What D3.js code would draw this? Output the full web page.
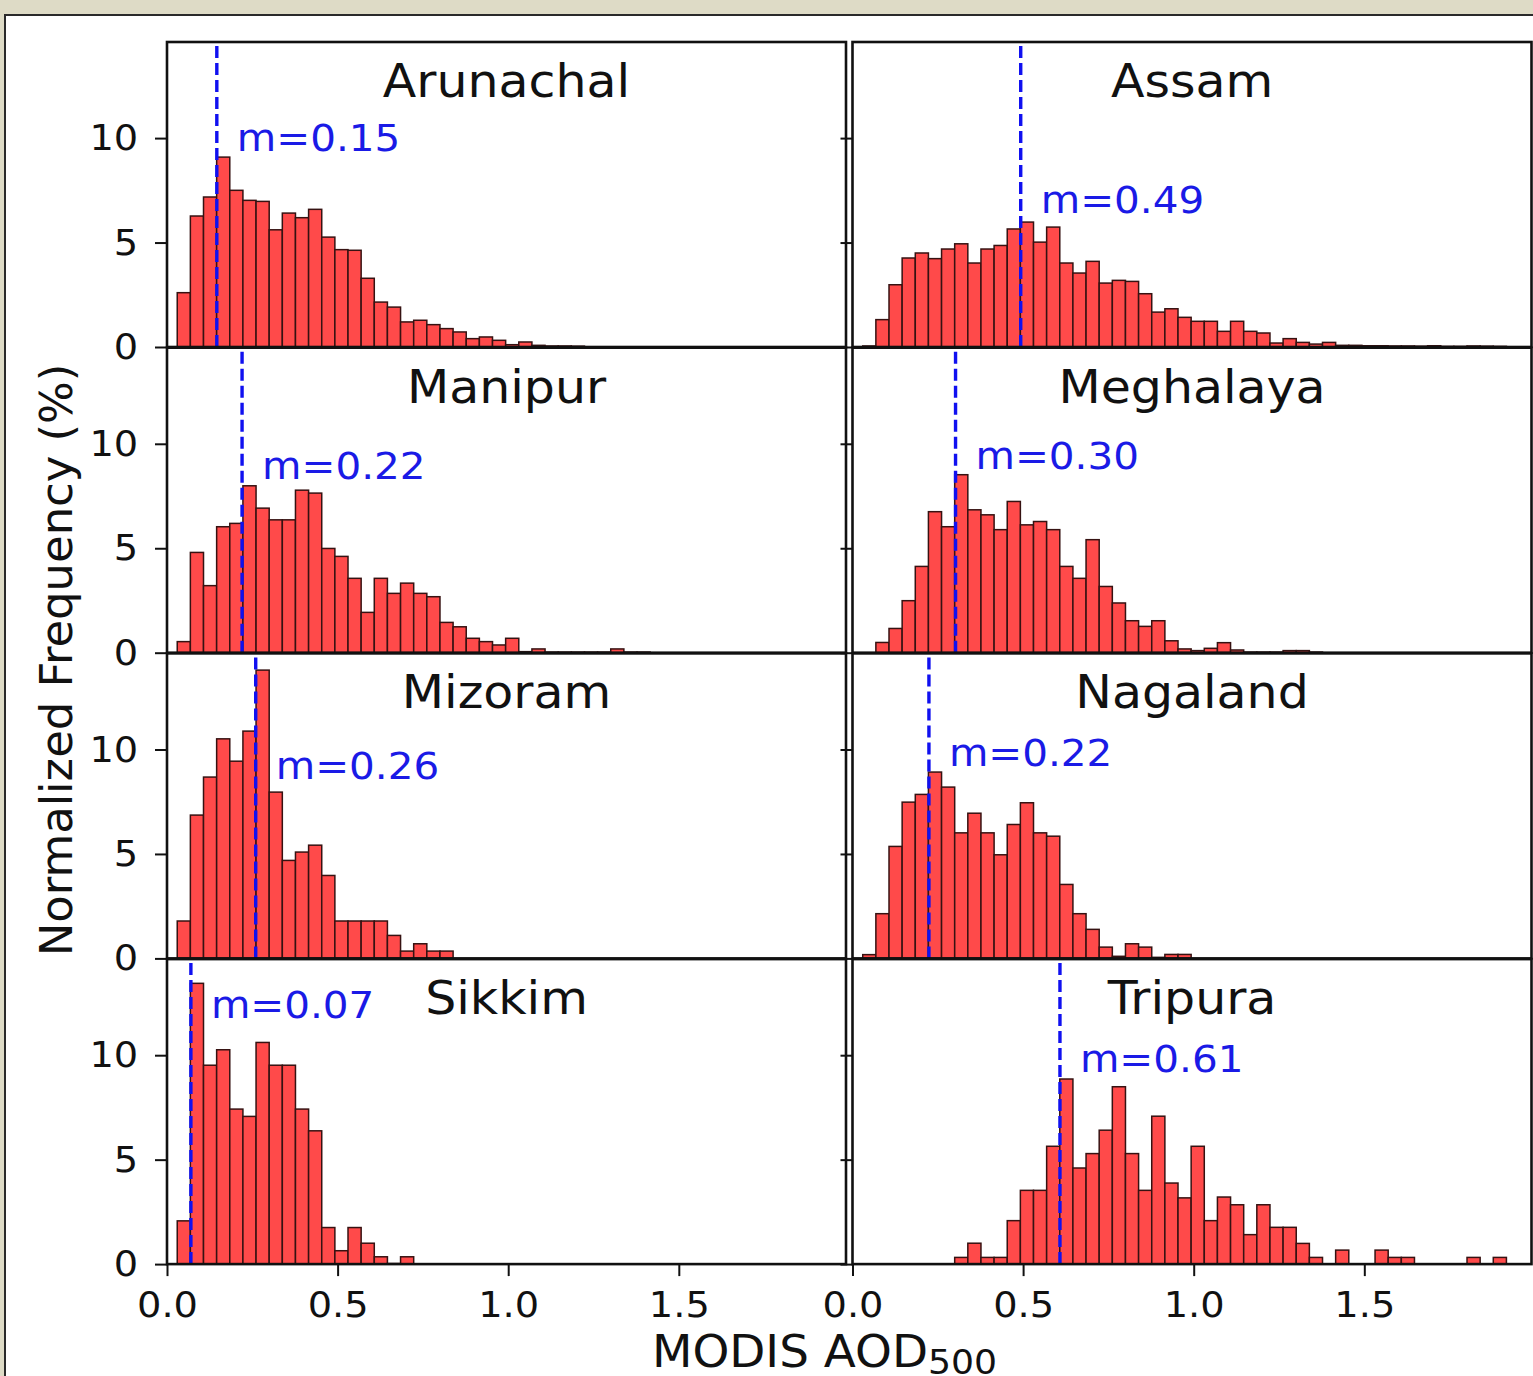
<!DOCTYPE html>
<html>
<head>
<meta charset="utf-8">
<script src="https://cdn.jsdelivr.net/npm/d3@7"></script>
<style>
  html, body { margin: 0; padding: 0; background: #dedbc6; }
  svg { display: block; font-family: "DejaVu Sans", sans-serif; }
</style>
</head>
<body>
<div id="chart"></div>
<script>
// histogram bins share one grid: start + i * width
const gridStart = 0.03;
const binWidth = 0.0385;

const states = ["Arunachal", "Assam", "Manipur", "Meghalaya", "Mizoram", "Nagaland", "Sikkim", "Tripura"];
const means = [0.146, 0.493, 0.22, 0.302, 0.26, 0.224, 0.07, 0.608];
const firstBin = [0, 0, 0, 1, 0, 0, 0, 7];

// normalized frequency (%) per bin
const arunachal = [2.6, 6.27, 7.18, 9.09, 7.5, 7.02, 6.97, 5.61, 6.41, 6.19, 6.59, 5.26, 4.66, 4.63, 3.29, 2.15,
  1.91, 1.2, 1.28, 1.07, 0.88, 0.72, 0.4, 0.48, 0.32, 0.11, 0.24, 0.08, 0.05, 0.05, 0.04];
const assam = [0.05, 1.31, 2.98, 4.26, 4.5, 4.23, 4.69, 4.94, 4.02, 4.69, 4.86, 5.65, 5.98, 5.02, 5.74, 4.02, 3.54,
  4.1, 3.06, 3.19, 3.14, 2.55, 1.67, 1.83, 1.42, 1.23, 1.23, 0.75, 1.23, 0.75, 0.67, 0.19, 0.4, 0.22, 0.14, 0.22,
  0.08, 0.08, 0.06, 0.06, 0.05, 0.05, 0.04, 0.06, 0.03, 0.03, 0.05, 0.04, 0.03];
const manipur = [0.53, 4.8, 3.21, 6.03, 6.19, 7.99, 6.92, 6.36, 6.36, 7.78, 7.64, 4.99, 4.61, 3.56, 1.93, 3.56,
  2.84, 3.33, 2.84, 2.68, 1.45, 1.24, 0.69, 0.53, 0.37, 0.69, 0.05, 0.18, 0.03, 0.03, 0.03, 0.03, 0.03, 0.18, 0.03, 0.03];
const meghalaya = [0.49, 1.16, 2.49, 4.13, 6.75, 6.03, 8.52, 6.84, 6.6, 5.89, 7.24, 6.12, 6.28, 5.89, 4.13, 3.56,
  5.41, 3.17, 2.38, 1.53, 1.26, 1.53, 0.57, 0.18, 0.1, 0.21, 0.48, 0.13, 0.03, 0.03, 0.03, 0.1, 0.1, 0.03];
const mizoram = [1.79, 6.86, 8.68, 10.51, 9.44, 10.88, 13.8, 7.96, 4.69, 5.09, 5.42, 3.97, 1.79, 1.79, 1.79, 1.79,
  1.1, 0.35, 0.7, 0.35, 0.35];
const nagaland = [0.18, 2.14, 5.36, 7.48, 7.85, 8.92, 8.2, 6.01, 6.95, 6.01, 4.96, 6.41, 7.45, 6.01, 5.85, 3.54,
  2.14, 1.39, 0.54, 0.1, 0.7, 0.54, 0.05, 0.19, 0.19];
const sikkim = [2.07, 13.44, 9.52, 10.26, 7.42, 7.07, 10.61, 9.52, 9.52, 7.42, 6.38, 1.75, 0.64, 1.75, 1.0, 0.35,
  0.03, 0.35];
const tripura = [0.32, 1.0, 0.32, 0.32, 2.08, 3.53, 3.53, 5.64, 8.86, 4.6, 5.29, 6.41, 8.49, 5.29, 3.53, 7.08,
  3.88, 3.17, 5.64, 2.08, 3.21, 2.84, 1.41, 2.84, 1.76, 1.76, 0.99, 0.32, 0, 0.67, 0, 0, 0.67, 0.32, 0.32,
  0, 0, 0, 0, 0.32, 0, 0.32];
const series = [arunachal, assam, manipur, meghalaya, mizoram, nagaland, sikkim, tripura];

// height (in %) where each "m=" note sits
const noteAt = [9.4, 6.4, 8.3, 8.8, 8.6, 9.2, 11.8, 9.2];

const xTicks = [0, 0.5, 1.0, 1.5];
const yTicks = [0, 5, 10];

const W = 1533, H = 1376;
const colX = [167, 852.5];
const panelW = 679;
const firstZero = 347;
const rowStep = 305.7;
const panelH = 305;
const stretch = 1.065; // source figure is slightly widened

const svg = d3.select("#chart").append("svg")
  .attr("width", W)
  .attr("height", H);

svg.append("rect").attr("width", W).attr("height", H).attr("fill", "#dedbc6");
svg.append("rect")
  .attr("x", 5).attr("y", 15)
  .attr("width", W + 20).attr("height", H + 20)
  .attr("fill", "#fff")
  .attr("stroke", "#2a2a2a")
  .attr("stroke-width", 2);

function label(parent, x, y, txt) {
  return parent.append("text")
    .attr("transform", `translate(${x},${y}) scale(${stretch},1)`)
    .text(txt);
}

states.forEach((name, k) => {
  const col = k % 2, row = Math.floor(k / 2);
  const x0 = colX[col];
  const zeroY = firstZero + row * rowStep;

  const x = d3.scaleLinear().domain([0, 1.99]).range([x0, x0 + panelW]);
  const y = d3.scaleLinear().domain([0, 14.6]).range([zeroY, zeroY - panelH]);

  const g = svg.append("g");

  const bins = series[k]
    .map((v, i) => ({ x0: gridStart + (firstBin[k] + i) * binWidth, v }))
    .filter(d => d.v > 0);

  g.append("g")
    .selectAll("rect")
    .data(bins)
    .join("rect")
    .attr("x", d => x(d.x0))
    .attr("width", d => x(d.x0 + binWidth) - x(d.x0))
    .attr("y", d => y(d.v))
    .attr("height", d => y(0) - y(d.v))
    .attr("fill", "#ff4a4a")
    .attr("stroke", "#361212")
    .attr("stroke-width", 1.5);

  // mean line
  g.append("line")
    .attr("x1", x(means[k])).attr("x2", x(means[k]))
    .attr("y1", y(0)).attr("y2", y(14.6))
    .attr("stroke", "#1010f0")
    .attr("stroke-width", 3.4)
    .attr("stroke-dasharray", "12,5");

  // y axis
  const ya = g.append("g")
    .attr("transform", `translate(${x0},0)`)
    .call(d3.axisLeft(y).tickValues(yTicks).tickSize(12).tickPadding(15)
      .tickFormat(col === 0 ? d3.format("d") : () => ""));
  ya.select(".domain").remove();
  ya.selectAll("line").attr("stroke", "#111").attr("stroke-width", 2);
  ya.selectAll("text").attr("font-size", 36).attr("fill", "#111")
    .attr("font-family", "DejaVu Sans")
    .attr("transform", `scale(${stretch},1)`);

  // x axis, bottom row only
  if (row === 3) {
    const xa = g.append("g")
      .attr("transform", `translate(0,${zeroY})`)
      .call(d3.axisBottom(x).tickValues(xTicks).tickSize(12).tickPadding(15)
        .tickFormat(d3.format(".1f")));
    xa.select(".domain").remove();
    xa.selectAll("line").attr("stroke", "#111").attr("stroke-width", 2);
    xa.selectAll("text").attr("font-size", 36).attr("fill", "#111")
      .attr("font-family", "DejaVu Sans")
      .attr("transform", `scale(${stretch},1)`);
  }

  // frame
  g.append("rect")
    .attr("x", x0).attr("y", zeroY - panelH)
    .attr("width", panelW).attr("height", panelH)
    .attr("fill", "none")
    .attr("stroke", "#111")
    .attr("stroke-width", 2.6);

  label(g, x0 + panelW / 2, zeroY - panelH + 55, name)
    .attr("text-anchor", "middle")
    .attr("font-size", 46)
    .attr("fill", "#111");

  label(g, x(means[k]) + 20, y(noteAt[k]), "m=" + means[k].toFixed(2))
    .attr("font-size", 38)
    .attr("fill", "#1a1ae6");
});

svg.append("text")
  .attr("transform", `translate(72,660) rotate(-90) scale(1.02,1)`)
  .attr("text-anchor", "middle")
  .attr("font-size", 44)
  .attr("fill", "#111")
  .text("Normalized Frequency (%)");

const xl = label(svg, 652, 1367, "")
  .attr("font-size", 44)
  .attr("fill", "#111");
xl.append("tspan").text("MODIS AOD");
xl.append("tspan").attr("font-size", 34).attr("dy", 7).text("500");
</script>
</body>
</html>
